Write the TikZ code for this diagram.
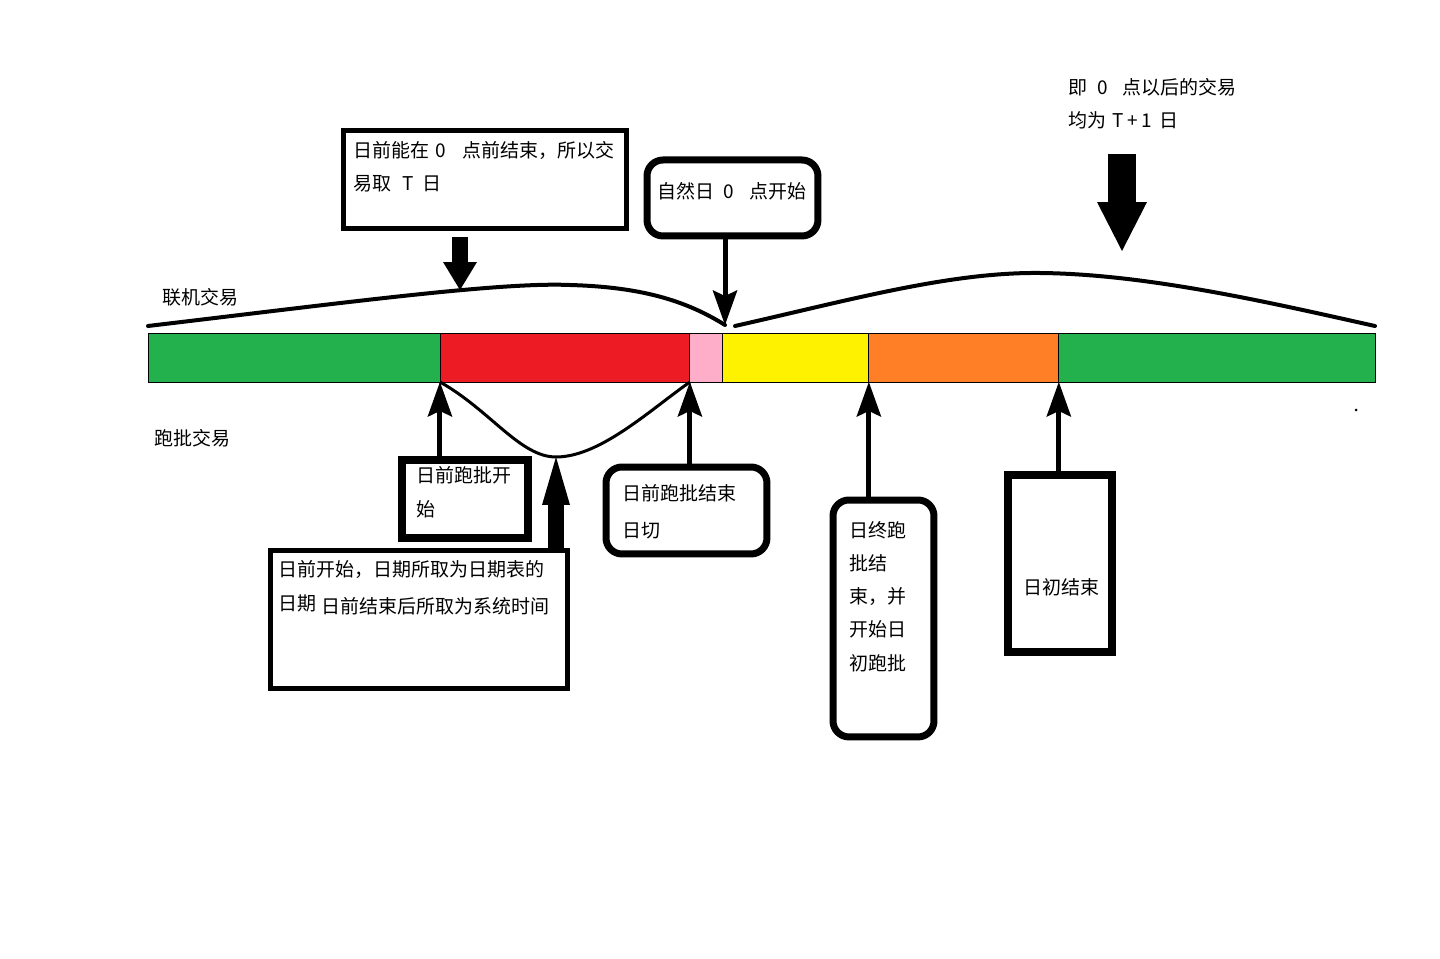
\documentclass[tikz,border=0pt]{standalone}
\usepackage{fontspec}
\setmainfont{Noto Sans CJK SC}
\usetikzlibrary{positioning,arrows.meta}

\definecolor{barGreen}{HTML}{22B14C}
\definecolor{barRed}{HTML}{ED1C24}
\definecolor{barPink}{HTML}{FFAEC9}
\definecolor{barYellow}{HTML}{FFF200}
\definecolor{barOrange}{HTML}{FF7F27}

\tikzset{
  seg/.style={draw=black, line width=0.5pt, minimum height=0.98cm, inner sep=0pt, outer sep=0pt},
  box/.style={draw=black, inner sep=0pt, outer sep=0pt, anchor=north west},
  txt/.style={inner sep=0pt, anchor=base west, align=left, font=\fontsize{10.8}{18.8}\selectfont},
  curve/.style={line width=0.08cm, line cap=round},
  thinarrow/.style={line width=0.1cm, -{Stealth[width=0.5cm,length=0.7cm,inset=0.12cm,line width=0pt]}},
  blockarrow/.style={-{Triangle[width=#1,length=0.56cm,line width=0pt]}},
}

\begin{document}
\begin{tikzpicture}[x=0.02cm,y=-0.02cm]

% Fix the size of the page
\useasboundingbox (0,0) rectangle (1440,959);

% Draw the time bar
\node[seg, fill=barGreen, minimum width=5.84cm, anchor=north west] (s1) at (148,333) {};
\node[seg, fill=barRed, minimum width=5cm, right=0pt of s1] (s2) {};
\node[seg, fill=barPink, minimum width=0.66cm, right=0pt of s2] (s3) {};
\node[seg, fill=barYellow, minimum width=2.92cm, right=0pt of s3] (s4) {};
\node[seg, fill=barOrange, minimum width=3.8cm, right=0pt of s4] (s5) {};
\node[seg, fill=barGreen, minimum width=6.34cm, right=0pt of s5] (s6) {};

% Label the two kinds of trading
\node[txt] (online) at (162,305) {联机交易};
\node[txt] (batch) at (154,445) {跑批交易};

% Points on the curves
\coordinate (peak1) at (460,290);
\coordinate (dayzero) at (725,325);
\coordinate (batchlow) at (556,457);

% Online trading curves
\draw[curve] (148,326) .. controls (350,302) and (500,282) .. (570,285)
  .. controls (640,287) and (685,300) .. (dayzero);
\draw[curve] (735,326) .. controls (850,300) and (950,272) .. (1040,273)
  .. controls (1150,274) and (1280,305) .. (1375,326);

% Batch trading curve
\draw[line width=0.06cm] (s2.south west) .. controls (490,410) and (520,457) .. (batchlow)
  .. controls (600,457) and (650,410) .. (s3.south west);

% Boxes above the bar (text nodes sit on their last line)
\node[box, line width=0.1cm, minimum width=5.68cm, minimum height=1.96cm] (b1) at (343,131) {};
\node[txt] (t1) at ([shift={(10,60)}]b1.north west) {日前能在\hspace{0.35em}0\hspace{0.85em}点前结束，所以交\\易取\hspace{0.6em}T\hspace{0.45em}日};

\node[box, line width=0.14cm, rounded corners=0.32cm, minimum width=3.42cm, minimum height=1.52cm] (b2) at (647,160) {};
\node[txt] (t2) at ([shift={(10,39)}]b2.north west) {自然日\hspace{0.5em}0\hspace{0.8em}点开始};

\node[txt] (t8) at (1068,128) {即\hspace{0.55em}0\hspace{0.75em}点以后的交易\\均为\hspace{0.3em}T\hspace{0.2em}+\hspace{0.2em}1\hspace{0.4em}日};

% Boxes below the bar
\node[box, line width=0.16cm, minimum width=2.52cm, minimum height=1.56cm] (b3) at (402,460) {};
\node[txt] (t3) at ([shift={(14,56)}]b3.north west) {日前跑批开\\始};

\node[box, line width=0.1cm, minimum width=5.96cm, minimum height=2.78cm] (b4) at (270,550) {};
\node[txt] (t4) at ([shift={(8,60)}]b4.north west) {日前开始，日期所取为日期表的\\日期};
\node[txt] (t4b) at ([shift={(51,63)}]b4.north west) {日前结束后所取为系统时间};

\node[box, line width=0.14cm, rounded corners=0.32cm, minimum width=3.22cm, minimum height=1.74cm] (b5) at (606,467) {};
\node[txt, font=\fontsize{10.8}{20.5}\selectfont] (t5) at ([shift={(16,70)}]b5.north west) {日前跑批结束\\日切};

\node[box, line width=0.14cm, rounded corners=0.32cm, minimum width=2.02cm, minimum height=4.74cm] (b6) at (833,500) {};
\node[txt] (t6) at ([shift={(16,170)}]b6.north west) {日终跑\\批结\\束，并\\开始日\\初跑批};

\node[box, line width=0.16cm, minimum width=2.08cm, minimum height=3.54cm] (b7) at (1008,475) {};
\node[txt] (t7) at ([shift={(15,119)}]b7.north west) {日初结束};

% Arrows from the upper boxes
\draw[line width=0.32cm, blockarrow=0.68cm] (460,237) -- (peak1);
\draw[thinarrow] (dayzero |- b2.south) -- (dayzero);
\draw[line width=0.56cm, -{Triangle[width=1cm,length=0.98cm,line width=0pt]}] (1122,154) -- (1122,251);

% Arrows from the lower boxes
\draw[thinarrow] (s2.south west |- b3.north) -- (s2.south west);
\draw[line width=0.32cm, -{Triangle[width=0.56cm,length=0.96cm,line width=0pt]}] (batchlow |- b4.north) -- (batchlow);
\draw[thinarrow] (s3.south west |- b5.north) -- (s3.south west);
\draw[thinarrow] (s5.south west |- b6.north) -- (s5.south west);
\draw[thinarrow] (s6.south west |- b7.north) -- (s6.south west);

% Small dot
\fill (1356,410) circle[radius=0.03cm];

\end{tikzpicture}
\end{document}
